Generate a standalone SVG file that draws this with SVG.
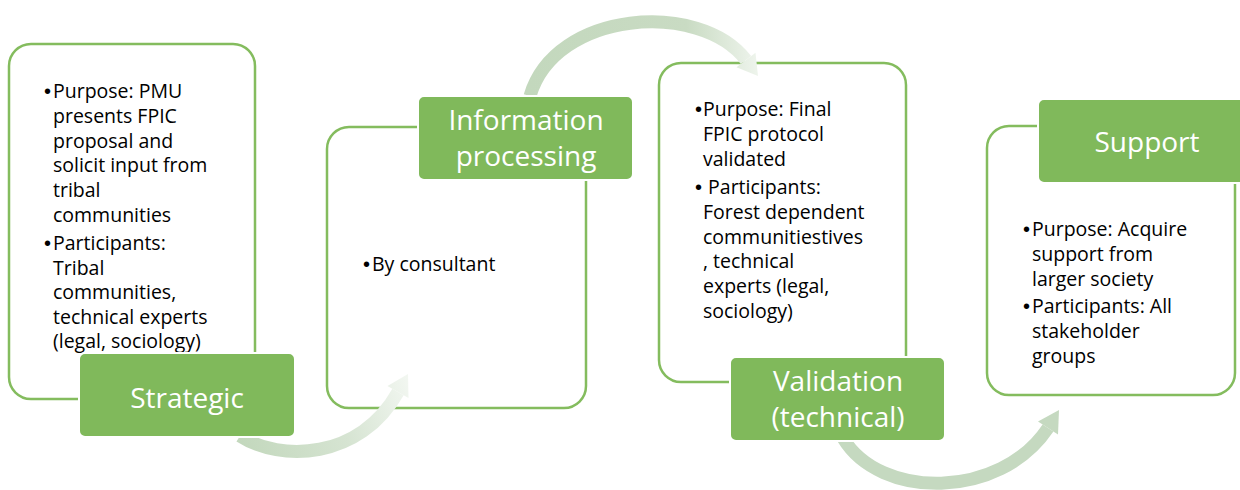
<svg xmlns="http://www.w3.org/2000/svg" width="1240" height="490" viewBox="0 0 1240 490">
<defs>
<linearGradient id="g1" gradientUnits="userSpaceOnUse" x1="240" y1="440" x2="412" y2="375">
<stop offset="0" stop-color="#c3d8bd"/><stop offset="0.55" stop-color="#d6e4d2"/><stop offset="1" stop-color="#f4f8f3"/>
</linearGradient>
<linearGradient id="g2" gradientUnits="userSpaceOnUse" x1="530" y1="90" x2="758" y2="76">
<stop offset="0" stop-color="#c3d8bd"/><stop offset="0.7" stop-color="#c9dbc3"/><stop offset="1" stop-color="#eef4ec"/>
</linearGradient>
<style>
.box{fill:#ffffff;stroke:#84bc5e;stroke-width:2.5}
.lab{fill:#80b95b;stroke:#ffffff;stroke-width:2}
.lt{font-family:"Open Sans","Liberation Sans",sans-serif;font-size:28px;fill:#ffffff;text-anchor:middle}
.bt{font-family:"Open Sans","Liberation Sans",sans-serif;font-size:19.5px;fill:#000000}
.bu{font-family:"Liberation Sans",sans-serif;font-size:20px}
.arr{fill:none;stroke-width:13}
</style>
</defs>
<g id="boxes">
<rect id="box-strategic" class="box" x="9" y="44" width="246" height="355" rx="22"/>
<rect id="box-info" class="box" x="327" y="127" width="259" height="281" rx="22"/>
<rect id="box-validation" class="box" x="659" y="63" width="247" height="319" rx="22"/>
<rect id="box-support" class="box" x="987" y="126" width="248" height="269" rx="22"/>
</g>
<g id="connectors">
<path class="arr" stroke="url(#g1)" d="M240 436 C280 462 360 460 398 392"/>
<polygon fill="url(#g1)" points="408.5,397.9 387.5,386.1 408,374"/>
<path class="arr" stroke="url(#g2)" d="M530 96 C555 10 700 0 746 60"/>
<polygon fill="url(#g2)" points="755.5,52.7 736.5,67.3 758,76"/>
<path class="arr" stroke="#c5d9c0" d="M843 438 C880 500 1000 500 1048 428"/>
<polygon fill="#c5d9c0" points="1058,434.6 1038,421.4 1059,410"/>
</g>
<g id="node-strategic">
<text class="bt"><tspan class="bu" x="44" y="98">•</tspan><tspan x="53" y="98">Purpose: PMU</tspan></text>
<text class="bt" x="53" y="122.8">presents FPIC</text>
<text class="bt" x="53" y="147.6">proposal and</text>
<text class="bt" x="53" y="172.4">solicit input from</text>
<text class="bt" x="53" y="197.2">tribal</text>
<text class="bt" x="53" y="222">communities</text>
<text class="bt"><tspan class="bu" x="44" y="250">•</tspan><tspan x="53" y="250">Participants:</tspan></text>
<text class="bt" x="53" y="274.5">Tribal</text>
<text class="bt" x="53" y="299">communities,</text>
<text class="bt" x="53" y="323.5">technical experts</text>
<text class="bt" x="53" y="348">(legal, sociology)</text>
<rect class="lab" x="79" y="353" width="216" height="84" rx="6"/>
<text class="lt" x="187" y="408">Strategic</text>
</g>
<g id="node-info">
<text class="bt"><tspan class="bu" x="363" y="271">•</tspan><tspan x="372" y="271">By consultant</tspan></text>
<rect class="lab" x="418" y="96" width="215" height="84" rx="6"/>
<text class="lt" x="526" y="130">Information</text>
<text class="lt" x="526" y="166">processing</text>
</g>
<g id="node-validation">
<text class="bt"><tspan class="bu" x="695" y="116">•</tspan><tspan x="703" y="116">Purpose: Final</tspan></text>
<text class="bt" x="703" y="140.8">FPIC protocol</text>
<text class="bt" x="703" y="165.6">validated</text>
<text class="bt"><tspan class="bu" x="695" y="194">•</tspan><tspan x="703" y="194"> Participants:</tspan></text>
<text class="bt" x="703" y="218.8">Forest dependent</text>
<text class="bt" x="703" y="243.6">communitiestives</text>
<text class="bt" x="703" y="268.4">, technical</text>
<text class="bt" x="703" y="293.2">experts (legal,</text>
<text class="bt" x="703" y="318">sociology)</text>
<rect class="lab" x="730" y="357" width="215" height="84" rx="6"/>
<text class="lt" x="838" y="391">Validation</text>
<text class="lt" x="838" y="427">(technical)</text>
</g>
<g id="node-support">
<text class="bt"><tspan class="bu" x="1023" y="236">•</tspan><tspan x="1032" y="236">Purpose: Acquire</tspan></text>
<text class="bt" x="1032" y="260.8">support from</text>
<text class="bt" x="1032" y="285.6">larger society</text>
<text class="bt"><tspan class="bu" x="1023" y="313">•</tspan><tspan x="1032" y="313">Participants: All</tspan></text>
<text class="bt" x="1032" y="337.8">stakeholder</text>
<text class="bt" x="1032" y="362.6">groups</text>
<rect class="lab" x="1038" y="99" width="215" height="84" rx="6"/>
<text class="lt" x="1147" y="152">Support</text>
</g>
</svg>
